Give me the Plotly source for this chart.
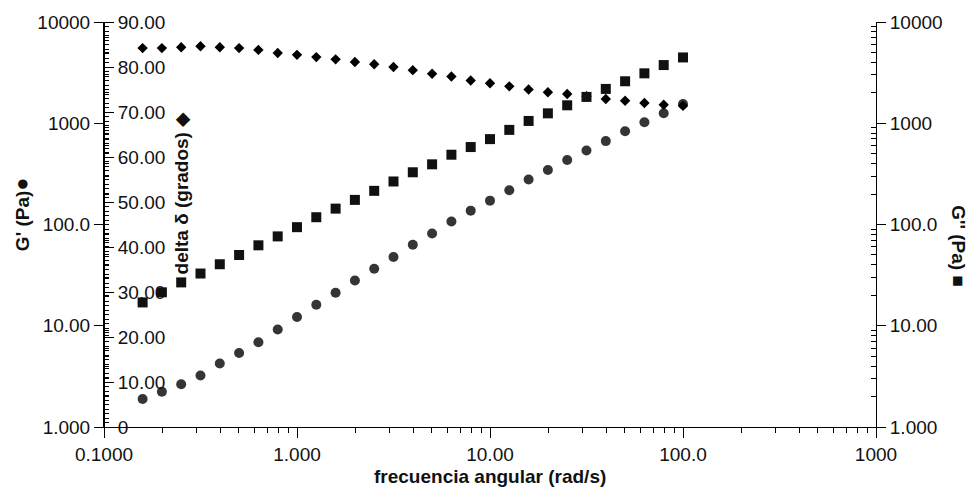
import plotly.graph_objects as go

# Angular frequency sweep (rad/s)
freq = [0.1585, 0.1995, 0.2512, 0.3162, 0.3981, 0.5012, 0.6310, 0.7943, 1.000,
        1.259, 1.585, 1.995, 2.512, 3.162, 3.981, 5.012, 6.310, 7.943, 10.00,
        12.59, 15.85, 19.95, 25.12, 31.62, 39.81, 50.12, 63.10, 79.43, 100.0]

# Storage modulus G' (Pa)
g_storage = [1.89, 2.23, 2.64, 3.23, 4.24, 5.39, 6.86, 9.20, 12.2, 16.1,
             21.2, 28.0, 36.5, 47.8, 63.0, 81.6, 107, 137, 172, 218,
             278, 346, 434, 539, 666, 835, 1023, 1253, 1546]

# Loss modulus G'' (Pa)
g_loss = [17.0, 21.4, 26.8, 32.8, 40.5, 50.0, 62.3, 76.3, 94.1, 118,
          143.5, 175, 215, 266, 328, 393, 489, 582, 697, 860,
          1054, 1253, 1504, 1820, 2183, 2598, 3112, 3756, 4467]

# Phase angle delta (degrees)
delta = [84.2, 84.2, 84.4, 84.6, 84.4, 84.2, 83.8, 83.1, 82.7, 82.2,
         81.7, 81.1, 80.6, 80.0, 79.3, 78.5, 77.9, 77.0, 76.4, 75.7,
         75.0, 74.4, 74.0, 73.5, 72.9, 72.5, 72.0, 71.6, 71.4]

x_ticks = [0.1, 1, 10, 100, 1000]
x_labels = ["0.1000", "1.000", "10.00", "100.0", "1000"]
g_ticks = [1, 10, 100, 1000, 10000]
g_labels = ["1.000", "10.00", "100.0", "1000", "10000"]
d_ticks = [0, 10, 20, 30, 40, 50, 60, 70, 80, 90]
d_labels = ["0", "10.00", "20.00", "30.00", "40.00", "50.00", "60.00", "70.00", "80.00", "90.00"]

FONT = "Liberation Sans, Arial, sans-serif"
INK = "#111111"

def log_minor(lo_exp, hi_exp):
    vals = []
    for e in range(lo_exp, hi_exp):
        for m in range(2, 10):
            vals.append(m * 10 ** e)
    return vals

fig = go.Figure()

fig.add_trace(go.Scatter(
    x=freq, y=g_storage, mode="markers", name="G'",
    marker=dict(symbol="circle", size=10, color="#353535"),
    xaxis="x", yaxis="y"))

fig.add_trace(go.Scatter(
    x=freq, y=g_loss, mode="markers", name="G''",
    marker=dict(symbol="square", size=10, color="#111111"),
    xaxis="x", yaxis="y3"))

fig.add_trace(go.Scatter(
    x=freq, y=delta, mode="markers", name="delta",
    marker=dict(symbol="diamond", size=8, color="#000000"),
    xaxis="x", yaxis="y2"))

axis_common = dict(showgrid=False, zeroline=False, showline=True,
                   linecolor="black", linewidth=1, tickcolor="black",
                   tickfont=dict(family=FONT, size=19, color=INK))

fig.update_layout(
    width=971, height=490,
    margin=dict(l=104, r=95, t=20, b=63),
    paper_bgcolor="white", plot_bgcolor="white",
    showlegend=False,
    xaxis=dict(type="log", range=[-1, 3], domain=[0, 1], tickmode="array",
               tickvals=x_ticks, ticktext=x_labels,
               ticks="outside", ticklen=10,
               minor=dict(tickmode="array", tickvals=log_minor(-1, 3),
                          ticks="outside", ticklen=5, tickcolor="black"),
               **axis_common),
    yaxis=dict(type="log", range=[0, 4], side="left", anchor="x",
               tickmode="array", tickvals=g_ticks, ticktext=g_labels,
               ticks="outside", ticklen=9,
               minor=dict(tickmode="array", tickvals=log_minor(0, 4),
                          ticks="inside", ticklen=5, tickcolor="black"),
               **axis_common),
    # phase-angle scale sits on the left spine with its labels facing the plot
    yaxis2=dict(range=[0, 90], overlaying="y", side="right", anchor="free", position=0,
                tickmode="array", tickvals=d_ticks, ticktext=d_labels,
                ticks="outside", ticklen=9,
                minor=dict(dtick=1, ticks="outside", ticklen=4, tickcolor="black"),
                **axis_common),
    yaxis3=dict(type="log", range=[0, 4], overlaying="y", side="right", anchor="x",
                tickmode="array", tickvals=g_ticks, ticktext=g_labels,
                ticks="outside", ticklen=9,
                minor=dict(tickmode="array", tickvals=log_minor(0, 4),
                           ticks="inside", ticklen=5, tickcolor="black"),
                **axis_common),
)

title_font = dict(family=FONT, size=19, color=INK)
sym = '<span style="font-size:22px">{}</span>'
fig.add_annotation(text="<b>frecuencia angular (rad/s)</b>", xref="paper", yref="paper",
                   x=0.5, y=-0.122, xanchor="center", yanchor="middle",
                   showarrow=False, font=title_font)
fig.add_annotation(text="<b>G' (Pa)</b>" + sym.format("●"), xref="paper", yref="paper",
                   x=-0.106, y=0.526, xanchor="center", yanchor="middle",
                   textangle=-90, showarrow=False, font=title_font)
fig.add_annotation(text="<b>delta δ (grados)</b> ◆", xref="paper", yref="paper",
                   x=0.101, y=0.579, xanchor="center", yanchor="middle",
                   textangle=-90, showarrow=False, font=title_font)
fig.add_annotation(text="<b>G'' (Pa)</b> ■", xref="paper", yref="paper",
                   x=1.106, y=0.447, xanchor="center", yanchor="middle",
                   textangle=90, showarrow=False, font=title_font)

fig.write_html("out.html")
